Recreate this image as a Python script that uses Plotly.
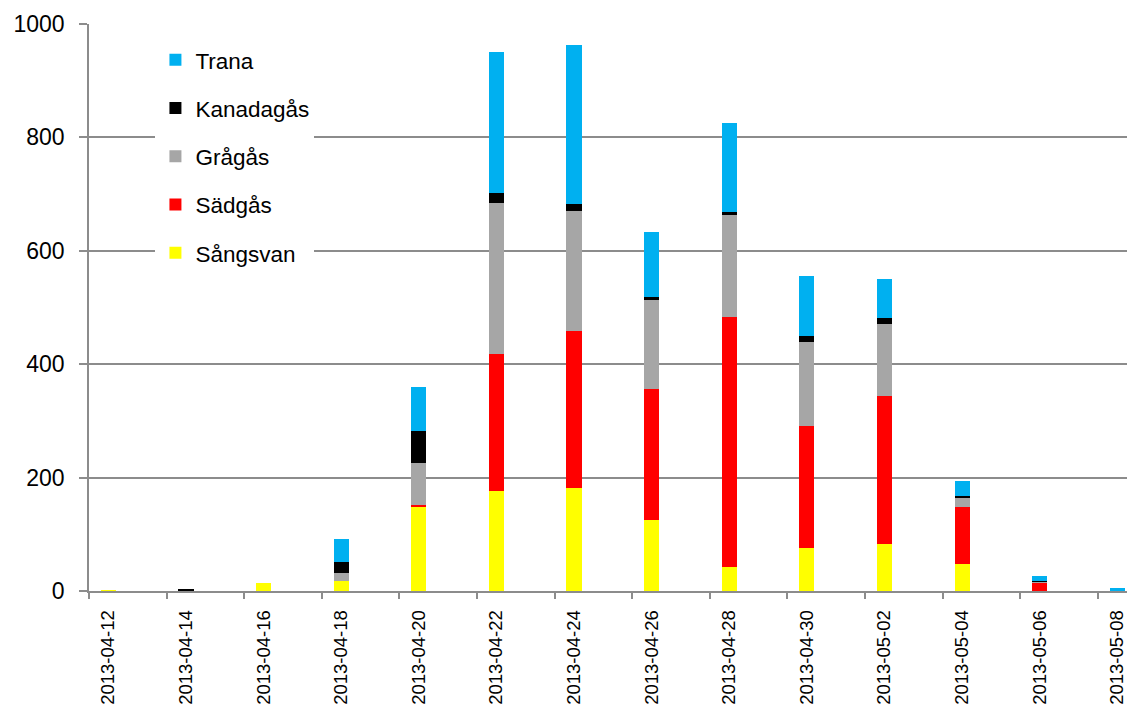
import plotly.graph_objects as go
import pandas as pd

# Observation dates (every second day)
dates = ["2013-04-12", "2013-04-14", "2013-04-16", "2013-04-18", "2013-04-20",
         "2013-04-22", "2013-04-24", "2013-04-26", "2013-04-28", "2013-04-30",
         "2013-05-02", "2013-05-04", "2013-05-06", "2013-05-08"]

sangsvan = [1, 0, 15, 17, 148, 177, 182, 126, 43, 76, 83, 47, 0, 0]
sadgas = [0, 0, 0, 0, 4, 241, 276, 231, 440, 215, 261, 101, 15, 0]
gragas = [0, 0, 0, 14, 74, 267, 212, 157, 180, 149, 127, 16, 2, 0]
kanadagas = [0, 2, 0, 21, 57, 17, 12, 4, 5, 9, 11, 4, 1, 0]
trana = [0, 0, 0, 40, 77, 248, 281, 116, 157, 106, 68, 26, 8, 5]

# stacking order bottom -> top; legend lists them top -> bottom
series = [
    ("Sångsvan", sangsvan, "#FFFF00"),
    ("Sädgås", sadgas, "#FF0000"),
    ("Grågås", gragas, "#A6A6A6"),
    ("Kanadagås", kanadagas, "#000000"),
    ("Trana", trana, "#00B0F0"),
]

DAY_MS = 86400000
day_start = pd.to_datetime(dates)
# bars sit in the middle of each day slot
day_mid = day_start + pd.Timedelta(hours=12)

FONT = "Liberation Sans"
GRID = "#8C8C8C"

fig = go.Figure()
n = len(series)
for i, (name, vals, color) in enumerate(series):
    fig.add_trace(go.Bar(
        x=day_mid, y=vals, name=name,
        legendgroup=f"g{n - i}", legendrank=n - i,
        width=0.39 * DAY_MS,
        marker=dict(color=color, line=dict(width=0)),
    ))

x_end = pd.Timestamp("2013-04-12") + pd.Timedelta(days=26.75)

fig.update_layout(
    barmode="stack",
    width=1127, height=704,
    margin=dict(l=89, r=0, t=24, b=113),
    paper_bgcolor="white", plot_bgcolor="white",
    font=dict(family=FONT, size=22, color="#000000"),
    showlegend=True,
    legend=dict(
        traceorder="grouped", tracegroupgap=16,
        x=0.064, y=0.974, xanchor="left", yanchor="top",
        bgcolor="white", borderwidth=0,
        font=dict(family=FONT, size=22.5, color="#000000"),
    ),
    bargap=0,
)

fig.update_xaxes(
    type="date",
    range=[pd.Timestamp("2013-04-12"), x_end],
    tickmode="array",
    tickvals=day_mid,
    ticktext=dates,
    tickangle=-90,
    ticks="",
    ticklabelstandoff=10,
    ticklabeloverflow="allow",
    automargin=False,
    tickfont=dict(family=FONT, size=18.5, color="#000000"),
    showgrid=False,
    showline=True, linecolor=GRID, linewidth=1.5,
    minor=dict(tickmode="array", tickvals=day_start, ticks="outside",
               ticklen=6, tickwidth=1.5, tickcolor=GRID, showgrid=False),
    zeroline=False,
)

fig.update_yaxes(
    range=[0, 1000],
    tickmode="array", tickvals=[0, 200, 400, 600, 800, 1000],
    ticks="outside", ticklen=8, tickwidth=1.5, tickcolor=GRID,
    ticklabelstandoff=10,
    automargin=False,
    tickfont=dict(family=FONT, size=23, color="#000000"),
    showgrid=True, gridcolor=GRID, gridwidth=1.5,
    showline=True, linecolor=GRID, linewidth=1.5,
    zeroline=False,
)

fig.write_html("out.html")
